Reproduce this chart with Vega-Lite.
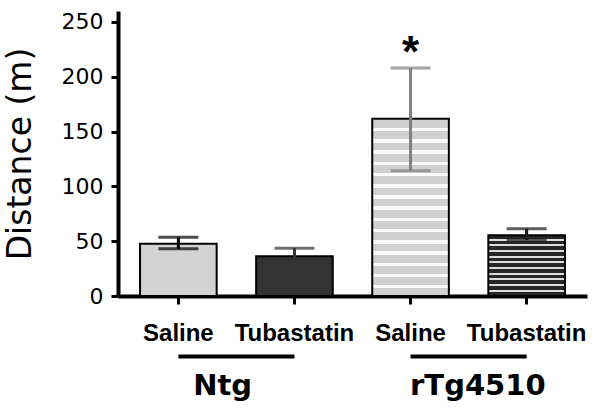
{
  "$schema": "https://vega.github.io/schema/vega-lite/v6.json",
  "autosize": "none",
  "width": 469,
  "height": 285,
  "padding": {"left": 118, "top": 11, "right": 13, "bottom": 119},
  "background": "white",
  "datasets": {
    "bars": [
      {"id": "Ntg-Saline", "group": "Ntg", "treatment": "Saline", "mean": 47.6, "lo": 43.2, "hi": 53.5, "sig": ""},
      {"id": "Ntg-Tubastatin", "group": "Ntg", "treatment": "Tubastatin", "mean": 36.2, "lo": 28.8, "hi": 43.6, "sig": ""},
      {"id": "rTg4510-Saline", "group": "rTg4510", "treatment": "Saline", "mean": 161.7, "lo": 114.3, "hi": 207.9, "sig": "*"},
      {"id": "rTg4510-Tubastatin", "group": "rTg4510", "treatment": "Tubastatin", "mean": 55.5, "lo": 51.0, "hi": 61.4, "sig": ""}
    ],
    "groups": [
      {"group": "Ntg", "first": "Ntg-Saline", "last": "Ntg-Tubastatin"},
      {"group": "rTg4510", "first": "rTg4510-Saline", "last": "rTg4510-Tubastatin"}
    ]
  },
  "data": {"name": "bars"},
  "encoding": {
    "x": {
      "field": "id", "type": "nominal", "title": null,
      "scale": {"domain": ["Ntg-Saline", "Ntg-Tubastatin", "rTg4510-Saline", "rTg4510-Tubastatin"], "paddingInner": 0.34, "paddingOuter": 0.19}
    }
  },
  "layer": [
    {
      "transform": [{"filter": "datum.id === 'Ntg-Saline'"}],
      "mark": {"type": "bar", "fill": "#d3d3d3", "stroke": "#000000", "strokeWidth": 2},
      "encoding": {"y": {"field": "mean", "type": "quantitative", "title": "Distance (m)", "scale": {"domain": [0, 250]}}}
    },
    {
      "transform": [{"filter": "datum.id === 'Ntg-Tubastatin'"}],
      "mark": {"type": "bar", "fill": "#333333", "stroke": "#000000", "strokeWidth": 2},
      "encoding": {"y": {"field": "mean", "type": "quantitative", "title": "Distance (m)"}}
    },
    {
      "transform": [{"filter": "datum.id === 'rTg4510-Saline'"}],
      "mark": {"type": "bar", "stroke": "#000000", "strokeWidth": 2,
        "fill": {"gradient": "linear", "x1": 0, "y1": 0, "x2": 0, "y2": 1, "stops": [
          {"offset": 0, "color": "#fbfbfb"}, {"offset": 0.0082, "color": "#fbfbfb"},
          {"offset": 0.0082, "color": "#d0d0d0"}, {"offset": 0.0518, "color": "#d0d0d0"},
          {"offset": 0.0518, "color": "#fbfbfb"}, {"offset": 0.0715, "color": "#fbfbfb"},
          {"offset": 0.0715, "color": "#d0d0d0"}, {"offset": 0.1151, "color": "#d0d0d0"},
          {"offset": 0.1151, "color": "#fbfbfb"}, {"offset": 0.1348, "color": "#fbfbfb"},
          {"offset": 0.1348, "color": "#d0d0d0"}, {"offset": 0.1784, "color": "#d0d0d0"},
          {"offset": 0.1784, "color": "#fbfbfb"}, {"offset": 0.1980, "color": "#fbfbfb"},
          {"offset": 0.1980, "color": "#d0d0d0"}, {"offset": 0.2417, "color": "#d0d0d0"},
          {"offset": 0.2417, "color": "#fbfbfb"}, {"offset": 0.2613, "color": "#fbfbfb"},
          {"offset": 0.2613, "color": "#d0d0d0"}, {"offset": 0.3050, "color": "#d0d0d0"},
          {"offset": 0.3050, "color": "#fbfbfb"}, {"offset": 0.3246, "color": "#fbfbfb"},
          {"offset": 0.3246, "color": "#d0d0d0"}, {"offset": 0.3682, "color": "#d0d0d0"},
          {"offset": 0.3682, "color": "#fbfbfb"}, {"offset": 0.3879, "color": "#fbfbfb"},
          {"offset": 0.3879, "color": "#d0d0d0"}, {"offset": 0.4315, "color": "#d0d0d0"},
          {"offset": 0.4315, "color": "#fbfbfb"}, {"offset": 0.4512, "color": "#fbfbfb"},
          {"offset": 0.4512, "color": "#d0d0d0"}, {"offset": 0.4948, "color": "#d0d0d0"},
          {"offset": 0.4948, "color": "#fbfbfb"}, {"offset": 0.5145, "color": "#fbfbfb"},
          {"offset": 0.5145, "color": "#d0d0d0"}, {"offset": 0.5581, "color": "#d0d0d0"},
          {"offset": 0.5581, "color": "#fbfbfb"}, {"offset": 0.5777, "color": "#fbfbfb"},
          {"offset": 0.5777, "color": "#d0d0d0"}, {"offset": 0.6214, "color": "#d0d0d0"},
          {"offset": 0.6214, "color": "#fbfbfb"}, {"offset": 0.6410, "color": "#fbfbfb"},
          {"offset": 0.6410, "color": "#d0d0d0"}, {"offset": 0.6847, "color": "#d0d0d0"},
          {"offset": 0.6847, "color": "#fbfbfb"}, {"offset": 0.7043, "color": "#fbfbfb"},
          {"offset": 0.7043, "color": "#d0d0d0"}, {"offset": 0.7480, "color": "#d0d0d0"},
          {"offset": 0.7480, "color": "#fbfbfb"}, {"offset": 0.7676, "color": "#fbfbfb"},
          {"offset": 0.7676, "color": "#d0d0d0"}, {"offset": 0.8112, "color": "#d0d0d0"},
          {"offset": 0.8112, "color": "#fbfbfb"}, {"offset": 0.8309, "color": "#fbfbfb"},
          {"offset": 0.8309, "color": "#d0d0d0"}, {"offset": 0.8745, "color": "#d0d0d0"},
          {"offset": 0.8745, "color": "#fbfbfb"}, {"offset": 0.8942, "color": "#fbfbfb"},
          {"offset": 0.8942, "color": "#d0d0d0"}, {"offset": 0.9378, "color": "#d0d0d0"},
          {"offset": 0.9378, "color": "#fbfbfb"}, {"offset": 0.9574, "color": "#fbfbfb"},
          {"offset": 0.9574, "color": "#d0d0d0"}, {"offset": 1, "color": "#d0d0d0"}
        ]}
      },
      "encoding": {"y": {"field": "mean", "type": "quantitative", "title": "Distance (m)"}}
    },
    {
      "transform": [{"filter": "datum.id === 'rTg4510-Tubastatin'"}],
      "mark": {"type": "bar", "stroke": "#000000", "strokeWidth": 2,
        "fill": {"gradient": "linear", "x1": 0, "y1": 0, "x2": 0, "y2": 1, "stops": [
          {"offset": 0, "color": "#262626"}, {"offset": 0.059, "color": "#262626"},
          {"offset": 0.059, "color": "#dcdcdc"}, {"offset": 0.089, "color": "#dcdcdc"},
          {"offset": 0.089, "color": "#262626"}, {"offset": 0.152, "color": "#262626"},
          {"offset": 0.152, "color": "#dcdcdc"}, {"offset": 0.182, "color": "#dcdcdc"},
          {"offset": 0.182, "color": "#262626"}, {"offset": 0.245, "color": "#262626"},
          {"offset": 0.245, "color": "#dcdcdc"}, {"offset": 0.275, "color": "#dcdcdc"},
          {"offset": 0.275, "color": "#262626"}, {"offset": 0.338, "color": "#262626"},
          {"offset": 0.338, "color": "#dcdcdc"}, {"offset": 0.368, "color": "#dcdcdc"},
          {"offset": 0.368, "color": "#262626"}, {"offset": 0.431, "color": "#262626"},
          {"offset": 0.431, "color": "#dcdcdc"}, {"offset": 0.461, "color": "#dcdcdc"},
          {"offset": 0.461, "color": "#262626"}, {"offset": 0.524, "color": "#262626"},
          {"offset": 0.524, "color": "#dcdcdc"}, {"offset": 0.554, "color": "#dcdcdc"},
          {"offset": 0.554, "color": "#262626"}, {"offset": 0.617, "color": "#262626"},
          {"offset": 0.617, "color": "#dcdcdc"}, {"offset": 0.647, "color": "#dcdcdc"},
          {"offset": 0.647, "color": "#262626"}, {"offset": 0.710, "color": "#262626"},
          {"offset": 0.710, "color": "#dcdcdc"}, {"offset": 0.740, "color": "#dcdcdc"},
          {"offset": 0.740, "color": "#262626"}, {"offset": 0.804, "color": "#262626"},
          {"offset": 0.804, "color": "#dcdcdc"}, {"offset": 0.834, "color": "#dcdcdc"},
          {"offset": 0.834, "color": "#262626"}, {"offset": 0.897, "color": "#262626"},
          {"offset": 0.897, "color": "#dcdcdc"}, {"offset": 0.927, "color": "#dcdcdc"},
          {"offset": 0.927, "color": "#262626"}, {"offset": 1, "color": "#262626"}
        ]}
      },
      "encoding": {"y": {"field": "mean", "type": "quantitative", "title": "Distance (m)"}}
    },
    {
      "mark": {"type": "rule", "strokeWidth": 3},
      "encoding": {
        "y": {"field": "lo", "type": "quantitative", "title": "Distance (m)"},
        "y2": {"field": "hi"},
        "color": {"field": "id", "type": "nominal", "legend": null,
          "scale": {"domain": ["Ntg-Saline", "Ntg-Tubastatin", "rTg4510-Saline", "rTg4510-Tubastatin"], "range": ["#000000", "#333333", "#808080", "#1a1a1a"]}}
      }
    },
    {
      "mark": {"type": "tick", "size": 40, "thickness": 3},
      "encoding": {
        "y": {"field": "lo", "type": "quantitative", "title": "Distance (m)"},
        "color": {"field": "id", "type": "nominal", "legend": null}
      }
    },
    {
      "mark": {"type": "tick", "size": 40, "thickness": 3},
      "encoding": {
        "y": {"field": "hi", "type": "quantitative", "title": "Distance (m)"},
        "color": {"field": "id", "type": "nominal", "legend": null}
      }
    },
    {
      "transform": [{"filter": "datum.sig !== ''"}],
      "mark": {"type": "text", "font": "Liberation Sans", "fontWeight": "bold", "fontSize": 44, "baseline": "alphabetic", "align": "center", "dy": -1, "color": "#000000"},
      "encoding": {
        "y": {"field": "hi", "type": "quantitative", "title": "Distance (m)"},
        "text": {"field": "sig"}
      }
    },
    {
      "data": {"name": "groups"},
      "mark": {"type": "rule", "strokeWidth": 4, "color": "#000000", "clip": false},
      "encoding": {
        "x": {"field": "first", "type": "nominal", "title": null, "bandPosition": 0.5},
        "x2": {"field": "last", "bandPosition": 0.5},
        "y": {"datum": -55.3, "type": "quantitative", "title": "Distance (m)"}
      }
    },
    {
      "data": {"name": "groups"},
      "transform": [{"filter": "datum.group === 'Ntg'"}],
      "mark": {"type": "text", "font": "DejaVu Sans", "fontWeight": "bold", "fontSize": 29, "baseline": "alphabetic", "align": "center", "dx": 6, "color": "#000000", "clip": false},
      "encoding": {
        "x": {"field": "first", "type": "nominal", "title": null, "bandPosition": 1},
        "y": {"datum": -90.4, "type": "quantitative", "title": "Distance (m)"},
        "text": {"field": "group"}
      }
    },
    {
      "data": {"name": "groups"},
      "transform": [{"filter": "datum.group === 'rTg4510'"}],
      "mark": {"type": "text", "font": "DejaVu Sans", "fontWeight": "bold", "fontSize": 29, "baseline": "alphabetic", "align": "center", "dx": 29, "color": "#000000", "clip": false},
      "encoding": {
        "x": {"field": "first", "type": "nominal", "title": null, "bandPosition": 1},
        "y": {"datum": -90.4, "type": "quantitative", "title": "Distance (m)"},
        "text": {"field": "group"}
      }
    }
  ],
  "config": {
    "view": {"stroke": null},
    "axis": {"grid": false, "domainColor": "#000000", "tickColor": "#000000", "labelColor": "#000000", "titleColor": "#000000"},
    "axisX": {
      "domainWidth": 4, "tickWidth": 3, "domainColor": "#000000", "tickColor": "#000000",
      "labelFont": "Liberation Sans", "labelFontSize": 24, "labelFontWeight": "bold", "labelPadding": 17, "tickSize": 8,
      "labelAngle": 0, "labelOverlap": false, "labelBound": false,
      "labelExpr": "split(datum.value, '-')[1]"
    },
    "axisY": {
      "domainWidth": 4, "tickWidth": 3, "domainColor": "#000000", "tickColor": "#000000",
      "labelFont": "DejaVu Sans", "labelFontSize": 22, "labelPadding": 8, "tickSize": 7,
      "values": [0, 50, 100, 150, 200, 250],
      "titleFont": "DejaVu Sans", "titleFontSize": 33, "titleFontWeight": "normal", "titlePadding": 24
    }
  }
}
